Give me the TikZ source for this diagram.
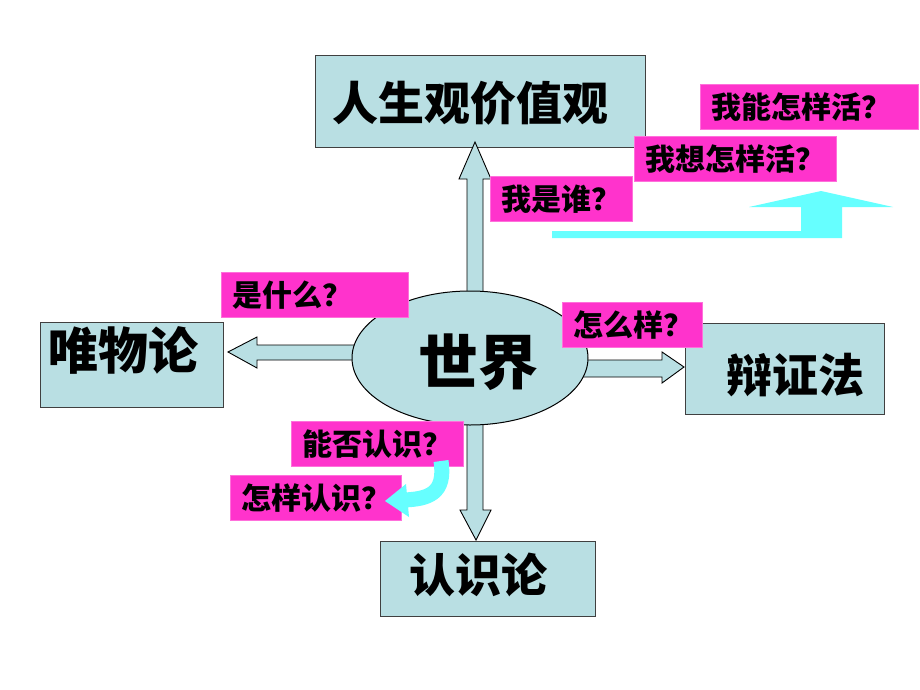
\documentclass[tikz,border=0pt]{standalone}
\usepackage{fontspec}
\newfontfamily\cjk{Noto Sans CJK SC Black}
\usetikzlibrary{shapes.geometric}
\definecolor{boxblue}{HTML}{B9DFE3}
\definecolor{mag}{HTML}{FF33CC}
\definecolor{cy}{HTML}{66FFFF}
\tikzset{
  box/.style={draw=black!75, fill=boxblue, line width=1pt, anchor=north west, inner sep=0pt},
  bigtxt/.style={font=\cjk\fontsize{46}{46}\selectfont, inner sep=0pt},
  tag/.style={fill=mag, draw=mag!70, line width=0.6pt, anchor=north west, inner xsep=11pt, inner ysep=0pt,
     align=left, minimum height=45pt, font=\cjk\fontsize{30}{30}\selectfont},
  blockarrow/.style={fill=boxblue, draw=black, line width=0.9pt, line join=miter},
}
\begin{document}
\begin{tikzpicture}[x=1pt,y=-1pt]
\useasboundingbox[fill=white] (0,0) rectangle (920,690);

% boxes
\node[box, minimum width=330pt, minimum height=92pt] (rsg) at (315,55) {};
\node[box, minimum width=183pt, minimum height=85pt] (wwl) at (40,322) {};
\node[box, minimum width=199pt, minimum height=91pt] (bzf) at (685,323) {};
\node[box, minimum width=215pt, minimum height=75pt] (rsl) at (380,541) {};
\node[bigtxt] (trsg) at (470,103) {人生观价值观};
\node[bigtxt, font=\cjk\fontsize{50}{50}\selectfont] (twwl) at (123,350) {唯物论};
\node[bigtxt] (tbzf) at (795,375) {辩证法};
\node[bigtxt] (trsl) at (478,575) {认识论};

% block arrows
\draw[blockarrow] (467,300) -- (467,179) -- (459,179) -- (475,142) -- (491,179) -- (483,179) -- (483,300) -- cycle;
\draw[blockarrow] (360,345) -- (257,345) -- (257,337) -- (228,352) -- (257,368) -- (257,360) -- (360,360) -- cycle;
\draw[blockarrow] (580,360) -- (662,360) -- (662,352) -- (684,367) -- (662,383) -- (662,377) -- (580,377) -- cycle;
\draw[blockarrow] (467,415) -- (467,510) -- (460,510) -- (476,540) -- (491,510) -- (483,510) -- (483,415) -- cycle;

% ellipse
\node[draw=black, line width=1pt, fill=boxblue, ellipse, minimum width=236pt, minimum height=134pt] (world) at (470,358) {};
\node[bigtxt, font=\cjk\fontsize{60}{60}\selectfont] (tworld) at (478,362) {世界};

% cyan big arrow
\fill[cy] (552,231) -- (801,231) -- (801,207) -- (749,207) -- (821,191) -- (893,207) -- (842,207) -- (842,238) -- (552,238) -- cycle;

% magenta tags
\node[tag, text width=196pt] (q1) at (700,84) {我能怎样活？};
\node[tag, text width=180pt] (q2) at (634,136) {我想怎样活？};
\node[tag, text width=120pt] (q3) at (490,176) {我是谁？};
\node[tag, text width=165pt] (q4) at (221,272) {是什么？};
\node[tag, text width=118pt] (q5) at (562,302) {怎么样？};
\node[tag, text width=150pt] (q6) at (291,421) {能否认识？};
\node[tag, text width=149pt] (q7) at (230,475) {怎样认识？};

% curved cyan arrow
\draw[cy, line width=15pt] (441,461) .. controls (446,494) and (428,499) .. (404,500);
\fill[cy] (406,484) -- (385,501) -- (409,517) -- cycle;
\end{tikzpicture}
\end{document}
